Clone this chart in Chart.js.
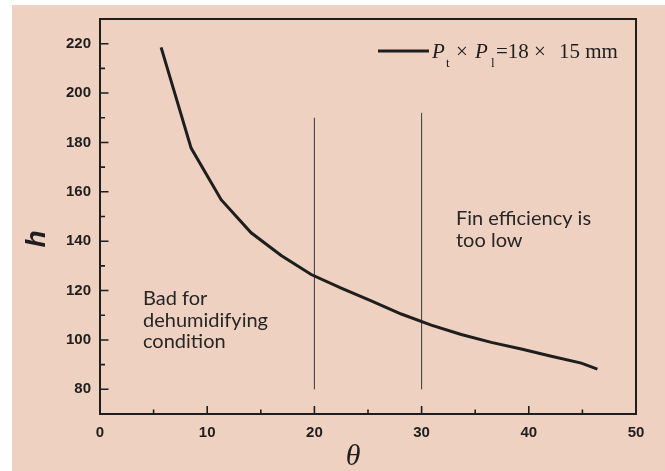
<!DOCTYPE html>
<html>
<head>
<meta charset="utf-8">
<script src="https://cdn.jsdelivr.net/npm/chart.js@4.4.0/dist/chart.umd.min.js"></script>
<style>
    html, body { margin: 0; padding: 0; background: #fff; }
    canvas { display: block; }
</style>
</head>
<body>
<canvas id="chart" width="665" height="471"></canvas>
<script>
// ===== DATA =====
const thetaValues = [5.7, 8.5, 11.3, 14.1, 16.9, 19.7, 22.5, 25.3, 28.1, 30.9, 33.7, 36.5, 39.3, 42.1, 44.9, 46.4];
const hValues = [218.5, 177.7, 156.8, 143.4, 134.2, 126.5, 121.0, 115.8, 110.5, 106.0, 102.2, 99.0, 96.3, 93.4, 90.6, 88.2];

const xTicks = [0, 10, 20, 30, 40, 50];
const yTicks = [80, 100, 120, 140, 160, 180, 200, 220];

// vertical limit lines: x position, bottom and top value
const limitX = [20, 30];
const limitBottom = [80, 80];
const limitTop = [190, 192];

const seriesLabel = 'Pt × Pl=18 × 15 mm';

// ===== COLORS =====
const PEACH = '#eed1c1';
const INK = '#1e1e1e';

const points = thetaValues.map((x, i) => ({ x, y: hValues[i] }));

const limitSets = limitX.map((x, i) => ({
    label: 'limit' + x,
    data: [{ x, y: limitBottom[i] }, { x, y: limitTop[i] }],
    showLine: true,
    borderColor: '#3a3a3a',
    borderWidth: 1,
    pointRadius: 0,
}));

// background with the white strip on top and left
const backgroundPlugin = {
    id: 'background',
    beforeDraw(chart) {
        const { ctx, width, height } = chart;
        ctx.save();
        ctx.fillStyle = '#fff';
        ctx.fillRect(0, 0, width, height);
        ctx.fillStyle = PEACH;
        ctx.fillRect(12, 5, width - 12, height - 5);
        ctx.restore();
    }
};

// frame, inward ticks, axis titles, legend, notes
const decorPlugin = {
    id: 'decor',
    afterDraw(chart) {
        const { ctx, chartArea: a, scales: { x, y } } = chart;
        ctx.save();
        ctx.strokeStyle = INK;
        ctx.lineWidth = 2;
        ctx.strokeRect(a.left, a.top, a.right - a.left, a.bottom - a.top);

        ctx.lineWidth = 1.6;
        ctx.beginPath();
        xTicks.forEach((v, i) => {
            const px = x.getPixelForValue(v);
            ctx.moveTo(px, a.bottom);
            ctx.lineTo(px, a.bottom - 8);
            if (i < xTicks.length - 1) {
                const mx = x.getPixelForValue(v + (xTicks[i + 1] - v) / 2);
                ctx.moveTo(mx, a.bottom);
                ctx.lineTo(mx, a.bottom - 4.5);
            }
        });
        yTicks.forEach((v, i) => {
            const py = y.getPixelForValue(v);
            ctx.moveTo(a.left, py);
            ctx.lineTo(a.left + 8.5, py);
            const step = i < yTicks.length - 1 ? yTicks[i + 1] - v : v - yTicks[i - 1];
            const my = y.getPixelForValue(v + step / 2);
            if (v + step / 2 < y.max) {
                ctx.moveTo(a.left, my);
                ctx.lineTo(a.left + 5, my);
            }
        });
        ctx.stroke();

        // y title "h"
        ctx.fillStyle = INK;
        ctx.save();
        ctx.translate(45, 239);
        ctx.rotate(-Math.PI / 2);
        ctx.font = 'italic bold 28px "Liberation Sans", Arial, sans-serif';
        ctx.textAlign = 'center';
        ctx.textBaseline = 'alphabetic';
        ctx.fillText('h', 0, 0);
        ctx.restore();

        // x title theta
        ctx.font = 'italic 30px "Liberation Serif", "Times New Roman", serif';
        ctx.textAlign = 'center';
        ctx.textBaseline = 'alphabetic';
        ctx.fillText('θ', 353, 465);

        // legend
        ctx.lineWidth = 3;
        ctx.beginPath();
        ctx.moveTo(378, 51);
        ctx.lineTo(429, 51);
        ctx.stroke();
        ctx.textAlign = 'left';
        const big = '21px "Liberation Serif", "Times New Roman", serif';
        const it = 'italic 21px "Liberation Serif", "Times New Roman", serif';
        const sub = '13px "Liberation Serif", "Times New Roman", serif';
        ctx.font = it; ctx.fillText('P', 432, 58);
        ctx.font = sub; ctx.fillText('t', 446, 67);
        ctx.font = big; ctx.fillText('×', 456, 58);
        ctx.font = it; ctx.fillText('P', 475, 58);
        ctx.font = sub; ctx.fillText('l', 491, 67);
        ctx.font = big; ctx.fillText('=18 ×', 496, 58);
        ctx.fillText('15 mm', 559, 58);

        // notes
        ctx.font = '20px Lato, "Open Sans", sans-serif';
        ctx.fillStyle = '#262626';
        ctx.fillText('Bad for', 143, 305);
        ctx.fillText('dehumidifying', 143, 327);
        ctx.fillText('condition', 143, 348);
        ctx.fillText('Fin efficiency is', 456, 225);
        ctx.fillText('too low', 456, 247);
        ctx.restore();
    }
};

const tickFont = { family: '"Liberation Sans", Arial, sans-serif', size: 15, weight: 'bold' };

new Chart(document.getElementById('chart'), {
    type: 'scatter',
    data: {
        datasets: [{
            label: seriesLabel,
            data: points,
            showLine: true,
            borderColor: INK,
            borderWidth: 3,
            pointRadius: 0,
            tension: 0,
        }, ...limitSets]
    },
    options: {
        responsive: false,
        devicePixelRatio: 1,
        animation: false,
        layout: { padding: { top: 19, right: 29, left: 0, bottom: 0 } },
        plugins: {
            legend: { display: false },
            tooltip: { enabled: false }
        },
        scales: {
            x: {
                type: 'linear',
                min: 0,
                max: 50,
                afterBuildTicks: s => { s.ticks = xTicks.map(v => ({ value: v })); },
                afterFit: s => { s.height = 57; },
                grid: { display: false, drawTicks: false },
                border: { display: false },
                ticks: { color: INK, font: tickFont, padding: 10, maxRotation: 0 }
            },
            y: {
                type: 'linear',
                min: 70,
                max: 230,
                afterBuildTicks: s => { s.ticks = yTicks.map(v => ({ value: v })); },
                afterFit: s => { s.width = 100; },
                grid: { display: false, drawTicks: false },
                border: { display: false },
                ticks: { color: INK, font: tickFont, padding: 9 }
            }
        }
    },
    plugins: [backgroundPlugin, decorPlugin]
});
</script>
</body>
</html>
